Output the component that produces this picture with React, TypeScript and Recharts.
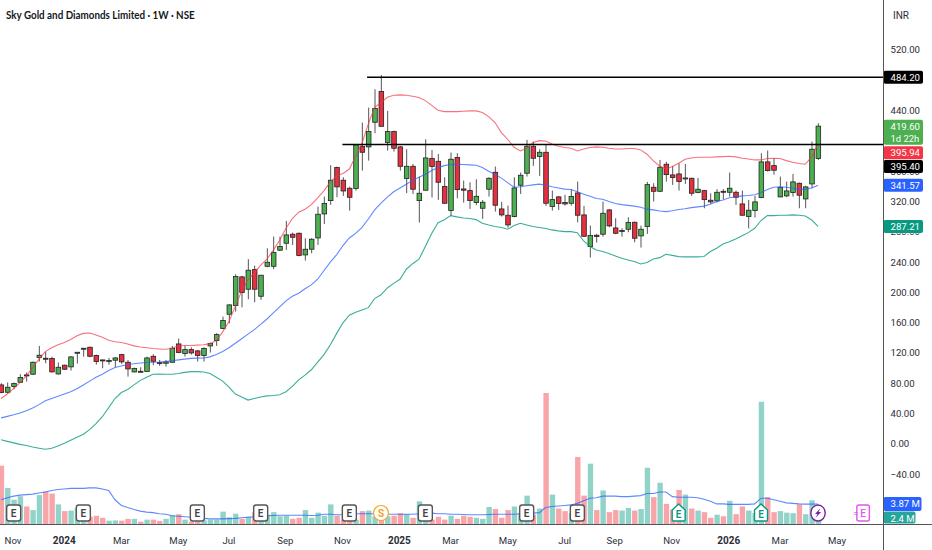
import React from "react";
import {
  Bar,
  ComposedChart,
  Line,
  ReferenceDot,
  ReferenceLine,
  XAxis,
  YAxis,
} from "recharts";

const CHART_W = 932;
const CHART_H = 550;

// weekly candles, one entry per week
const opens = [
  78, 68.3, 75.8, 81.5, 91.2, 92.1, 114.1, 113.2, 112.8, 92.5,
  104, 101.8, 119.8, 125.5, 127.7, 116.7, 111, 109.2, 110.6, 118,
  107.9, 95.2, 96, 95.6, 115.8, 107.5, 106.6, 107.9, 132.1, 119.4,
  124.6, 122.9, 116.7, 129.5, 136.5, 152.4, 171.3, 182.7, 220.6, 204.3,
  230.2, 195, 234.6, 234.6, 255.8, 265, 276.9, 278.2, 249.6, 257.1,
  272, 303.7, 321.3, 364.9, 348.2, 337.6, 337.2, 392.6, 392.2, 424.7,
  465.2, 397.9, 412.4, 392.2, 350.4, 366.6, 321.3, 335, 376.8, 373.2,
  339.8, 308.1, 378.1, 336.7, 334.5, 318.7, 311.2, 336.3, 358.7, 310.3,
  302, 300.2, 341.6, 357.4, 393, 379.4, 385.1, 313.4, 326.2, 318.7,
  317.8, 331.4, 302.4, 260.6, 275.6, 276.9, 309, 285.2, 280.8, 283.5,
  292.7, 274.7, 287, 338.9, 333.6, 369.3, 355.2, 356.5, 350.4, 350.8,
  331.9, 334.5, 321.8, 320.9, 333.6, 332.3, 332.3, 316.9, 300.2, 308.1,
  325.3, 372.4, 367.5, 326.2, 327.5, 331.9, 344.2, 323.5, 343.3, 376.8,
];
const closes = [
  67.9, 74.9, 79.8, 87.7, 89.9, 107.9, 117.2, 111.9, 95.2, 101.3,
  98.7, 115, 121.1, 126.4, 115.8, 108.8, 109.7, 110.1, 113.6, 108.4,
  99.1, 99.6, 95.2, 113.6, 109.2, 106.6, 108.4, 126.4, 120.7, 124.6,
  120.2, 116.7, 126, 132.6, 144.4, 162.9, 183.6, 221, 199.9, 229.4,
  204.3, 222.8, 239.9, 252.7, 260.6, 276, 272.9, 248.7, 257.1, 270.3,
  303.3, 317.4, 348.2, 339.4, 334, 325.7, 394.8, 385.1, 412.4, 442.8,
  419.4, 412.4, 390.4, 366.6, 366.6, 336.3, 331, 377.6, 366.2, 345.5,
  317.8, 375.9, 335.8, 335, 321.3, 327, 319.1, 350.8, 315.2, 302.4,
  289.2, 338, 354.8, 393, 377.2, 385.1, 317.8, 322.6, 317.4, 316.9,
  326.6, 302, 274.2, 275.1, 273.8, 304.6, 287.9, 278.2, 281.7, 292.3,
  271.6, 283.5, 342.4, 333.6, 365.3, 355.6, 351.7, 346.4, 351.2, 331,
  336.3, 322.6, 319.6, 332.3, 332.8, 337.6, 325.7, 302, 308.6, 319.6,
  372.4, 360.9, 361.4, 338.5, 334.1, 346, 328.4, 339.4, 389.1, 419.6,
];
const highs = [
  80.2, 81.1, 81.1, 92.1, 94.3, 108.8, 129.5, 122, 115.4, 107.5,
  104.8, 115.8, 121.2, 126.5, 128.6, 118, 111.2, 113.6, 114.5, 118.9,
  111, 100.9, 101.3, 115.4, 118.5, 111, 111, 129.5, 139.2, 129.5,
  127.7, 124.2, 127.7, 133.9, 146.2, 168.2, 184.5, 224.1, 221.9, 243.9,
  235.5, 223.2, 258.4, 273.8, 273.8, 294.5, 279.1, 279.1, 271.6, 271.6,
  313.4, 326.6, 368, 366.2, 352.1, 339.8, 395.7, 424.3, 444.1, 468.3,
  487.2, 439.7, 413.7, 393.5, 389.1, 369.7, 353, 402.3, 388.2, 382.9,
  352.1, 384.7, 383.8, 347.7, 345.5, 349.5, 322.2, 352.1, 366.2, 319.6,
  314.7, 352.1, 358.3, 401.4, 399.2, 389.1, 394.8, 334.5, 327.5, 328.8,
  336.3, 346.4, 314.3, 288.3, 277.3, 320, 310.3, 298, 284.8, 299.3,
  293.6, 288.3, 346, 344.2, 375, 372.4, 367.1, 370.6, 369.7, 351.5,
  351.2, 335.4, 331, 336.3, 336.3, 358.3, 334.5, 334.5, 322.2, 327.5,
  383.8, 387.3, 377.2, 353, 346.4, 356.5, 345.1, 340.7, 399.2, 423.4,
];
const lows = [
  67, 67, 72.3, 81.1, 82.4, 91.2, 108.8, 106.6, 94.3, 91.6,
  97.8, 96.9, 106.2, 115.4, 114.5, 104.8, 100, 104.8, 101.3, 105.7,
  89, 94.3, 95, 95.2, 104, 103.1, 102.2, 107.5, 119.8, 115.4,
  118, 108.8, 108.8, 120.7, 129.5, 151.5, 159.4, 174.8, 180.5, 191.1,
  187.1, 190.2, 233.3, 230.7, 254.9, 256.2, 262.8, 247.8, 242.1, 251.8,
  262.8, 290.5, 315.6, 325.7, 327.5, 308.1, 334.5, 360.9, 374.1, 410.2,
  419, 387.3, 386, 360.9, 331, 330.1, 292.3, 334.5, 325.3, 322.2,
  316.9, 301.1, 324.4, 318.7, 310.3, 315.2, 297.1, 326.6, 306.8, 300.2,
  285.7, 299.3, 330.1, 353, 367.1, 353.9, 314.3, 308.1, 309, 314.7,
  314.7, 292.7, 273.4, 246.1, 265.9, 273.8, 286.1, 276.9, 273.8, 279.5,
  266.3, 259.3, 277.3, 320, 332.8, 346.4, 342, 334.5, 343.3, 327.5,
  331, 311.2, 316.9, 318.7, 323, 326.6, 315.6, 301.1, 284.8, 298.9,
  324.4, 359.6, 355.6, 325.7, 325.7, 326.6, 311.2, 311.2, 337.6, 375,
];

// bollinger style bands
const upperBand = [
  60, 66, 73, 81, 90, 101, 112, 122, 127, 131,
  134, 138, 143, 146, 146.5, 144, 141, 137, 135, 134,
  132, 129.5, 128, 127, 126, 125.5, 125, 126, 130, 130,
  130, 130.5, 131, 132.5, 136.5, 148, 161.6, 182, 202, 216.6,
  226, 236, 244, 256, 269, 284.8, 297.6, 306, 310, 316,
  325, 334.5, 346, 354, 357, 363, 380, 397, 422.5, 444.5,
  450.7, 457.7, 460.4, 460.8, 460.4, 459, 457.3, 453.3, 447, 440.6,
  438.8, 438.8, 438.8, 439.2, 439.7, 439.7, 437.5, 432.2, 424.3, 411,
  402.3, 391.7, 386.9, 390.4, 397.9, 400.5, 400, 396, 393, 391.3,
  390.4, 386.9, 389.5, 391.3, 392.2, 391.7, 390.4, 389.5, 389.5, 390,
  390, 388.2, 382.5, 373.7, 367, 362.7, 366.2, 370.6, 375.9, 377.6,
  378.5, 378.5, 378.5, 379, 379.4, 379.8, 379, 377.2, 376.3, 375,
  375, 376.8, 377.2, 376.8, 374.1, 371.9, 370.2, 369.3, 379.4, 395.94,
];
const basis = [
  34.5, 36.5, 38.5, 41, 44, 47.5, 52, 57, 60, 63,
  66, 69, 73, 78, 83, 88, 92, 97, 101, 103,
  105, 106, 107, 107.5, 108, 108.3, 108.8, 110, 111, 112,
  113, 113.3, 113.6, 115, 118, 122, 127, 133, 139, 145,
  151, 158, 165, 173, 181, 189, 195, 199, 205, 210,
  217.5, 229, 240, 250, 262, 272, 278, 286, 297, 309,
  318, 326, 333, 338, 343, 348, 352, 356, 361, 365,
  367.5, 369, 369.3, 369, 368.5, 368, 365, 360, 356, 351,
  345, 339, 339.5, 341, 342, 343, 341.5, 339.5, 338, 336.5,
  336, 333, 329.7, 327, 324, 323, 320, 317.5, 316, 315,
  314, 312.5, 310, 309, 307.5, 306.8, 308, 309.5, 310.5, 312,
  313, 314, 316.5, 320, 322, 325, 326, 327.5, 328, 329,
  332, 336, 339, 339.5, 339, 337.5, 336, 336.5, 338, 341.57,
];
const lowerBand = [
  5.5, 3.5, 1.5, -0.5, -2, -4, -5.5, -7, -5.5, -2.5,
  1, 5, 9, 13, 19, 27, 36, 48, 60, 68,
  72, 78, 84, 88, 92, 92.5, 92, 92, 93, 94.5,
  95.6, 95.6, 95, 93, 88, 83, 75, 66, 62, 58,
  60, 62, 63.5, 64, 65, 69, 76, 84.6, 91, 98,
  108, 118, 131, 146, 160, 170, 174, 177, 180, 192,
  197, 206, 212, 217.5, 230.7, 238, 244, 260.6, 278, 292,
  296, 301.5, 299.8, 298.4, 297.6, 296.2, 291.4, 289, 287, 285.7,
  283.5, 288.3, 291.4, 289.2, 287, 285.7, 284.4, 282.6, 281.3, 280.4,
  280.4, 279, 268, 260.6, 256, 254, 251.4, 248.3, 245.2, 243,
  240.8, 237.7, 239.5, 244.3, 246, 250.5, 249, 247.4, 247, 247,
  247, 247.4, 254, 258.4, 264, 267, 270.7, 275, 279, 284.8,
  295, 301.5, 301.5, 302, 302, 302.4, 302, 301, 295.8, 287.21,
];

// volume in millions
const volumes = [
  11.3, 7, 4.7, 5.4, 3.4, 2.7, 5.6, 6.3, 5.9, 3.8,
  2.5, 2.6, 3.1, 2.1, 1.4, 1.6, 1.2, 0.65, 0.7, 0.65,
  1, 1, 0.45, 0.85, 0.85, 0.6, 1, 1.7, 1.9, 0.85,
  0.5, 0.5, 0.7, 0.85, 0.85, 2.4, 1.3, 2, 1, 1.4,
  2.3, 2.1, 1.8, 2.3, 1.5, 1.6, 1, 1.2, 2.7, 1.2,
  2.2, 1.6, 3.8, 1.6, 0.85, 0.85, 0.85, 2.5, 2.6, 1.5,
  1.5, 1.5, 1.6, 2.1, 1.9, 1.2, 4.4, 2.1, 0.85, 1.4,
  0.85, 1.6, 1, 1.6, 1.4, 1.2, 1, 3.3, 2.9, 1.2,
  2.7, 3.4, 2.1, 5.5, 1.8, 3, 25.4, 5.7, 3, 2.5,
  2.1, 13, 5.5, 11.7, 2.7, 6.5, 2.3, 2.7, 2.6, 3.1,
  2.6, 2.9, 10.9, 5.2, 8, 3.9, 2.8, 6.6, 5.7, 3,
  2.6, 2.3, 1.2, 1.8, 1.5, 4.5, 1.9, 3.4, 2.6, 2.1,
  23.7, 5.2, 2.3, 2.5, 2.2, 2.1, 3.8, 1.9, 4.6, 2.4,
];
const volumeMA = [
  4.7, 5.1, 5.4, 5.6, 5.7, 5.8, 6, 6.2, 6.5, 6.7,
  6.8, 6.9, 6.9, 6.9, 7, 7, 6.8, 6.5, 4.7, 3.6,
  3.2, 2.8, 2.5, 2.3, 2.2, 2, 1.9, 1.6, 1.5, 1.4,
  1.3, 1.1, 1.1, 1, 1, 1, 1.05, 1.1, 1.2, 1.3,
  1.4, 1.5, 1.6, 1.65, 1.7, 1.7, 1.7, 1.7, 1.7, 1.65,
  1.7, 1.9, 1.9, 1.8, 1.8, 1.9, 2, 2, 2, 2,
  1.9, 1.9, 1.9, 1.9, 1.9, 1.9, 2, 2.05, 2.1, 2,
  2, 1.9, 1.9, 1.85, 1.8, 1.8, 1.8, 1.85, 1.9, 1.9,
  1.9, 1.9, 2, 2, 2.1, 2.2, 3.2, 3.4, 3.5, 3.6,
  3.7, 4, 4.5, 5, 5.1, 5.4, 5.4, 5.4, 5.3, 5.3,
  5.4, 5.5, 5.9, 5.9, 6.2, 6.2, 5.3, 5.2, 5.2, 5.2,
  5.1, 4.8, 4.4, 3.9, 3.9, 3.8, 3.8, 3.8, 3.8, 3.9,
  5, 5, 4.7, 4.4, 4.1, 4, 3.9, 3.85, 3.85, 3.87,
];

const xTicks = [1.9, 10, 19, 28, 36, 44.9, 53.9, 62.9, 71, 80, 89, 96.9, 105.9, 114.9, 123, 132];
const xLabels = ["Nov", "2024", "Mar", "May", "Jul", "Sep", "Nov", "2025", "Mar", "May", "Jul", "Sep", "Nov", "2026", "Mar", "May"];
// 480 and 400 sit fully under the black and red tags in the picture
const priceTicks = [520, 440, 360, 320, 280, 240, 200, 160, 120, 80, 40, 0, -40];
// these two only peek out below a tag
const peekTicks = [360, 280];

// drawn levels
const resistanceHigh = { level: 484.2, from: 57.8 };
const resistanceLow = { level: 395.4, from: 53.9 };

// event markers along the bottom
const earningsPast = [2, 13, 31, 41, 55, 67, 83, 91];
const earningsReported = [107, 120];
const splitWeeks = [60];
const dividendWeeks = [129];
const earningsNext = [136];
const MARKER_VOL = 2.13;

const X_DOMAIN: [number, number] = [-0.158, 139.34];
const PRICE_DOMAIN: [number, number] = [-105.6, 586.1];
const VOL_DOMAIN: [number, number] = [0, 101.6];

const UP = "#4caf50";
const DOWN = "#e6303f";
const FONT = "Roboto, sans-serif";

const rows = opens.map((open, i) => ({
  week: i,
  open,
  close: closes[i],
  high: highs[i],
  low: lows[i],
  range: [lows[i], highs[i]],
  upper: upperBand[i],
  basis: basis[i],
  lower: lowerBand[i],
  volume: volumes[i],
  volumeMA: volumeMA[i],
}));

const Candle = (props: any) => {
  const { x, y, width, height, payload } = props;
  const pxPerUnit = height / (payload.high - payload.low);
  const top = y + (payload.high - Math.max(payload.open, payload.close)) * pxPerUnit;
  const bottom = y + (payload.high - Math.min(payload.open, payload.close)) * pxPerUnit;
  const cx = x + width / 2;
  return (
    <g>
      <line x1={cx} x2={cx} y1={y} y2={y + height} stroke="#555" strokeWidth={1} />
      <rect
        x={cx - 2.3}
        y={top}
        width={4.6}
        height={Math.max(bottom - top, 1)}
        fill={payload.close >= payload.open ? UP : DOWN}
        stroke="#222"
        strokeWidth={0.8}
      />
    </g>
  );
};

const VolumeBar = (props: any) => {
  const { x, y, width, height, payload } = props;
  return (
    <rect
      x={x + width / 2 - 2.7}
      y={y}
      width={5.4}
      height={height}
      fill={payload.close >= payload.open ? "#92d3c9" : "#f8a5aa"}
    />
  );
};

const XTick = (props: any) => {
  const { x, y, payload, index } = props;
  const label = xLabels[index] ?? String(payload.value);
  const isYear = /^\d+$/.test(label);
  return (
    <text
      x={x}
      y={y + 12}
      textAnchor="middle"
      fontFamily={FONT}
      fontSize={isYear ? 10 : 9.6}
      fontWeight={isYear ? 700 : 400}
      fill="#2a2e39"
    >
      {label}
    </text>
  );
};

const YTick = (props: any) => {
  const { x, y, payload } = props;
  const v = payload.value;
  const peek = peekTicks.includes(v);
  return (
    <g>
      {peek && (
        <clipPath id={`peek-${v}`}>
          <rect x={x} y={y + 1.4} width={40} height={6} />
        </clipPath>
      )}
      <text
        x={x}
        y={y + 3.4}
        fontFamily={FONT}
        fontSize={9.6}
        fill="#2a2e39"
        clipPath={peek ? `url(#peek-${v})` : undefined}
      >
        {`${v < 0 ? "−" : ""}${Math.abs(v).toFixed(2)}`}
      </text>
    </g>
  );
};

// coloured price tag on the right scale, dy moves it out of a neighbour's way
const PriceTag = (props: any) => {
  const { cx, cy, fill, text, sub, dy = 0, w = 39.5, h = 13, color = "#fff" } = props;
  const boxH = sub ? 25 : h;
  const top = cy + dy - h / 2;
  return (
    <g>
      <rect x={cx} y={top} width={w} height={boxH} rx={2} fill={fill} />
      <text x={cx + 7} y={top + 10} fontFamily={FONT} fontSize={9.6} fill={color}>
        {text}
      </text>
      {sub && (
        <text x={cx + 7} y={top + 22} fontFamily={FONT} fontSize={9.4} fill={color}>
          {sub}
        </text>
      )}
    </g>
  );
};

const EarningsMark = ({ cx, cy }: any) => (
  <g>
    <rect x={cx - 7} y={cy - 8} width={14} height={16} rx={2.5} fill="#fff" stroke="#555" strokeWidth={1.4} />
    <text x={cx} y={cy + 3.5} textAnchor="middle" fontFamily={FONT} fontSize={10} fontWeight={600} fill="#444">
      E
    </text>
  </g>
);

const ReportedMark = ({ cx, cy }: any) => (
  <g>
    <path
      d={`M${cx - 6.5} ${cy - 3} L${cx} ${cy - 9} L${cx + 6.5} ${cy - 3} V${cy + 7} Q${cx + 6.5} ${cy + 8} ${cx + 5.5} ${cy + 8} H${cx - 5.5} Q${cx - 6.5} ${cy + 8} ${cx - 6.5} ${cy + 7} Z`}
      fill="#fff"
      stroke="#089981"
      strokeWidth={1.4}
    />
    <text x={cx} y={cy + 4.5} textAnchor="middle" fontFamily={FONT} fontSize={10} fontWeight={600} fill="#089981">
      E
    </text>
  </g>
);

const SplitMark = ({ cx, cy }: any) => (
  <g>
    <circle cx={cx} cy={cy} r={7.5} fill="#fff" stroke="#f5a623" strokeWidth={1.2} />
    <text x={cx} y={cy + 3.5} textAnchor="middle" fontFamily={FONT} fontSize={10} fontWeight={600} fill="#f09a1a">
      S
    </text>
  </g>
);

const DividendMark = ({ cx, cy }: any) => (
  <g>
    <ellipse cx={cx} cy={cy} rx={7.2} ry={8} fill="#fff" stroke="#7b1fa2" strokeWidth={1.4} />
    <path
      d={`M${cx + 2.5} ${cy - 5} L${cx - 3} ${cy + 1} H${cx - 0.5} L${cx - 2.5} ${cy + 5} L${cx + 3} ${cy - 1} H${cx + 0.5} Z`}
      fill="#7b1fa2"
    />
  </g>
);

const NextEarningsMark = ({ cx, cy }: any) => (
  <g>
    <rect x={cx - 5.5} y={cy - 8} width={12.5} height={16} rx={2} fill="#fff" stroke="#e056ef" strokeWidth={1.4} />
    <text x={cx + 0.8} y={cy + 3.5} textAnchor="middle" fontFamily={FONT} fontSize={10} fontWeight={500} fill="#e056ef">
      E
    </text>
    <text x={cx - 6.5} y={cy + 3} textAnchor="middle" fontFamily={FONT} fontSize={8} fill="#e056ef">
      ≈
    </text>
  </g>
);

const markerDot = (week: number, shape: any) => (
  <ReferenceDot
    key={`${week}`}
    xAxisId="vol"
    yAxisId="vol"
    x={week}
    y={MARKER_VOL}
    ifOverflow="visible"
    shape={shape}
  />
);

const priceTag = (value: number, tag: any) => (
  <ReferenceDot
    key={tag.text}
    yAxisId="price"
    x={X_DOMAIN[1]}
    y={value}
    ifOverflow="visible"
    shape={(p: any) => <PriceTag {...p} {...tag} />}
  />
);

const volumeTag = (value: number, tag: any) => (
  <ReferenceDot
    key={tag.text}
    xAxisId="vol"
    yAxisId="vol"
    x={X_DOMAIN[1]}
    y={value}
    ifOverflow="visible"
    shape={(p: any) => <PriceTag {...p} {...tag} />}
  />
);

export default function App() {
  return (
    <div
      style={{
        position: "absolute",
        left: 0,
        top: 0,
        width: CHART_W,
        height: CHART_H,
        overflow: "hidden",
        background: "#fff",
      }}
    >
      <ComposedChart
        width={CHART_W}
        height={CHART_H}
        data={rows}
        margin={{ top: 0, right: 0, bottom: 0, left: 0 }}
      >
        <XAxis
          type="number"
          dataKey="week"
          domain={X_DOMAIN}
          ticks={xTicks}
          interval={0}
          height={26}
          axisLine={false}
          tickLine={false}
          tick={<XTick />}
        />
        <XAxis xAxisId="vol" type="number" dataKey="week" domain={X_DOMAIN} hide />
        <YAxis
          yAxisId="price"
          orientation="right"
          width={48.5}
          domain={PRICE_DOMAIN}
          ticks={priceTicks}
          interval={0}
          axisLine={false}
          tickLine={false}
          tickSize={0}
          tickMargin={7}
          tick={<YTick />}
        />
        <YAxis yAxisId="vol" orientation="right" domain={VOL_DOMAIN} hide />

        <Bar
          xAxisId="vol"
          yAxisId="vol"
          dataKey="volume"
          barSize={5.2}
          isAnimationActive={false}
          shape={<VolumeBar />}
        />
        <Line xAxisId="vol" yAxisId="vol" dataKey="volumeMA" stroke="#2962ff" strokeWidth={1.1} dot={false} activeDot={false} opacity={0.75} isAnimationActive={false} />
        <Line yAxisId="price" dataKey="upper" stroke="#f23645" strokeWidth={1.1} dot={false} activeDot={false} opacity={0.7} isAnimationActive={false} />
        <Line yAxisId="price" dataKey="basis" stroke="#2962ff" strokeWidth={1.1} dot={false} activeDot={false} opacity={0.75} isAnimationActive={false} />
        <Line yAxisId="price" dataKey="lower" stroke="#089981" strokeWidth={1.1} dot={false} activeDot={false} opacity={0.8} isAnimationActive={false} />
        <Bar
          yAxisId="price"
          dataKey="range"
          barSize={5}
          isAnimationActive={false}
          shape={<Candle />}
        />

        <ReferenceLine
          yAxisId="price"
          ifOverflow="visible"
          stroke="#000"
          strokeWidth={1.6}
          segment={[
            { x: resistanceHigh.from, y: resistanceHigh.level },
            { x: X_DOMAIN[1], y: resistanceHigh.level },
          ]}
        />
        <ReferenceLine
          yAxisId="price"
          ifOverflow="visible"
          stroke="#000"
          strokeWidth={1.6}
          segment={[
            { x: resistanceLow.from, y: resistanceLow.level },
            { x: X_DOMAIN[1], y: resistanceLow.level },
          ]}
        />

        {earningsPast.map((w) => markerDot(w, EarningsMark))}
        {earningsReported.map((w) => markerDot(w, ReportedMark))}
        {splitWeeks.map((w) => markerDot(w, SplitMark))}
        {dividendWeeks.map((w) => markerDot(w, DividendMark))}
        {earningsNext.map((w) => markerDot(w, NextEarningsMark))}

        {priceTag(484.2, { fill: "#000", text: "484.20" })}
        {priceTag(419.6, { fill: "#4caf50", text: "419.60", sub: "1d 22h" })}
        {priceTag(395.94, { fill: "#f23645", text: "395.94", dy: 8.6 })}
        {priceTag(395.4, { fill: "#000", text: "395.40", dy: 22 })}
        {priceTag(341.57, { fill: "#2962ff", text: "341.57" })}
        {priceTag(287.21, { fill: "#089981", text: "287.21" })}
        {volumeTag(3.87, { fill: "#2962ff", text: "3.87 M", w: 38, h: 14 })}
        {volumeTag(2.4, { fill: "#26a69a", text: "2.4 M", w: 32, h: 12, dy: 6 })}
      </ComposedChart>

      {/* frame of the price and time scales */}
      <div style={{ position: "absolute", left: 883, top: 0, width: 1, height: CHART_H, background: "#555" }} />
      <div style={{ position: "absolute", left: 0, top: 524, width: CHART_W, height: 1, background: "#555" }} />
      <div
        style={{
          position: "absolute",
          left: 6,
          top: 8,
          fontFamily: "Lato, sans-serif",
          fontSize: 11,
          fontWeight: 700,
          color: "#131722",
          whiteSpace: "nowrap",
          transform: "scaleX(0.895)",
          transformOrigin: "left center",
        }}
      >
        Sky Gold and Diamonds Limited · 1W · NSE
      </div>
      <div
        style={{
          position: "absolute",
          left: 893,
          top: 10,
          fontFamily: FONT,
          fontSize: 10,
          color: "#2a2e39",
        }}
      >
        INR
      </div>
    </div>
  );
}
